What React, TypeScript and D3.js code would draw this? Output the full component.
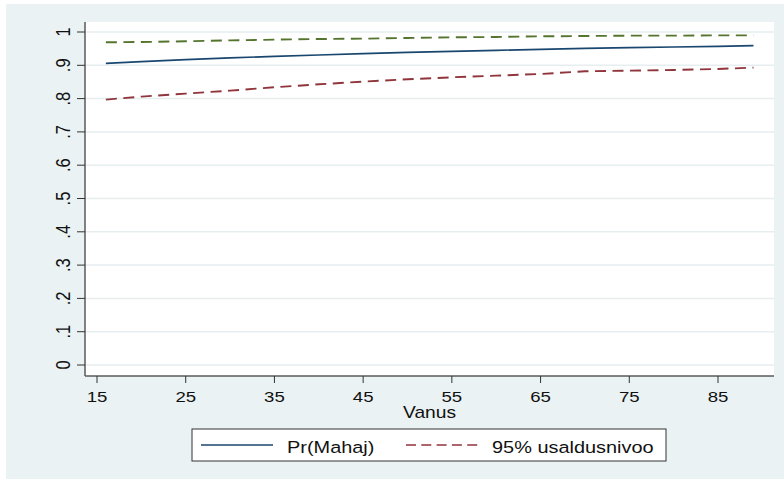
import React from "react";
import * as d3 from "d3";

const ages = [16, 20, 25, 30, 35, 40, 45, 50, 55, 60, 65, 70, 75, 80, 85, 89];
const prMahaj = [0.906, 0.911, 0.917, 0.922, 0.927, 0.931, 0.935, 0.939, 0.942, 0.945, 0.948, 0.951, 0.953, 0.955, 0.957, 0.959];
const lowerCI = [0.797, 0.806, 0.815, 0.824, 0.834, 0.843, 0.851, 0.858, 0.864, 0.869, 0.874, 0.882, 0.884, 0.886, 0.889, 0.893];
const upperCI = [0.969, 0.970, 0.972, 0.975, 0.977, 0.979, 0.980, 0.982, 0.984, 0.985, 0.987, 0.988, 0.989, 0.989, 0.990, 0.990];
const xTicks = [15, 25, 35, 45, 55, 65, 75, 85];
const yTicks = [0, 0.1, 0.2, 0.3, 0.4, 0.5, 0.6, 0.7, 0.8, 0.9, 1];
const yTickLabels = ["0", ".1", ".2", ".3", ".4", ".5", ".6", ".7", ".8", ".9", "1"];
const xTitle = "Vanus";
const legendLabels = ["Pr(Mahaj)", "95% usaldusnivoo"];

const W = 784;
const H = 479;
const plot = { left: 85, right: 774, top: 22, bottom: 376 };
const FONT = "'Liberation Sans', Arial, sans-serif";
const SX = 1.2;

export default function App() {
  const x = d3.scaleLinear().domain([15, 85]).range([97, 718]);
  const y = d3.scaleLinear().domain([0, 1]).range([365, 32]);
  const line = (vals: number[]) =>
    d3
      .line<number>()
      .x((_, i) => x(ages[i]))
      .y((d) => y(d))(vals) as string;

  const T = (props: { x: number; y: number; anchor?: string; size: number; children: React.ReactNode }) => (
    <text
      transform={`translate(${props.x},${props.y}) scale(${SX},1)`}
      textAnchor={props.anchor || "start"}
      fontFamily={FONT}
      fontSize={props.size}
      fill="#111"
    >
      {props.children}
    </text>
  );

  return (
    <svg width={W} height={H} style={{ position: "absolute", left: 0, top: 0 }}>
      <rect x={0} y={0} width={W} height={H} fill="#ffffff" />
      <rect x={6} y={4} width={W - 6} height={H - 4} fill="#EAF2F3" />
      <rect
        x={plot.left}
        y={plot.top}
        width={plot.right - plot.left}
        height={plot.bottom - plot.top}
        fill="#ffffff"
      />
      {yTicks.map((t, i) => (
        <line
          key={"g" + i}
          x1={plot.left}
          x2={plot.right}
          y1={y(t)}
          y2={y(t)}
          stroke="#E6EEF0"
          strokeWidth={1.5}
        />
      ))}
      <path d={line(upperCI)} fill="none" stroke="#55752F" strokeWidth={1.9} strokeDasharray="11,6.5" />
      <path d={line(lowerCI)} fill="none" stroke="#90353B" strokeWidth={1.9} strokeDasharray="11,6.5" />
      <path d={line(prMahaj)} fill="none" stroke="#1A476F" strokeWidth={1.7} />
      <line x1={plot.left} x2={plot.left} y1={plot.top} y2={plot.bottom} stroke="#5a5a5a" strokeWidth={1.5} />
      <line x1={plot.left} x2={plot.right} y1={plot.bottom} y2={plot.bottom} stroke="#5a5a5a" strokeWidth={1.5} />
      {yTicks.map((t, i) => (
        <g key={"yt" + i}>
          <line x1={plot.left - 8} x2={plot.left} y1={y(t)} y2={y(t)} stroke="#333" strokeWidth={1} />
          <text
            transform={`translate(${69.5},${y(t)}) rotate(-90) scale(1,${SX})`}
            textAnchor="middle"
            fontFamily={FONT}
            fontSize={16.5}
            fill="#111"
          >
            {yTickLabels[i]}
          </text>
        </g>
      ))}
      {xTicks.map((t, i) => (
        <g key={"xt" + i}>
          <line x1={x(t)} x2={x(t)} y1={plot.bottom} y2={plot.bottom + 7} stroke="#333" strokeWidth={1} />
          <T x={x(t)} y={402} anchor="middle" size={15.5}>
            {t}
          </T>
        </g>
      ))}
      <T x={(plot.left + plot.right) / 2} y={418} anchor="middle" size={16}>
        {xTitle}
      </T>
      <rect x={192} y={429} width={474} height={32} fill="#ffffff" stroke="#333" strokeWidth={1} />
      <line x1={201} x2={273} y1={445} y2={445} stroke="#1A476F" strokeWidth={1.5} />
      <T x={287} y={453} size={16.6}>
        {legendLabels[0]}
      </T>
      <line x1={406} x2={478} y1={445} y2={445} stroke="#90353B" strokeWidth={1.5} strokeDasharray="10,5.3" />
      <T x={492} y={453} size={16.6}>
        {legendLabels[1]}
      </T>
    </svg>
  );
}
